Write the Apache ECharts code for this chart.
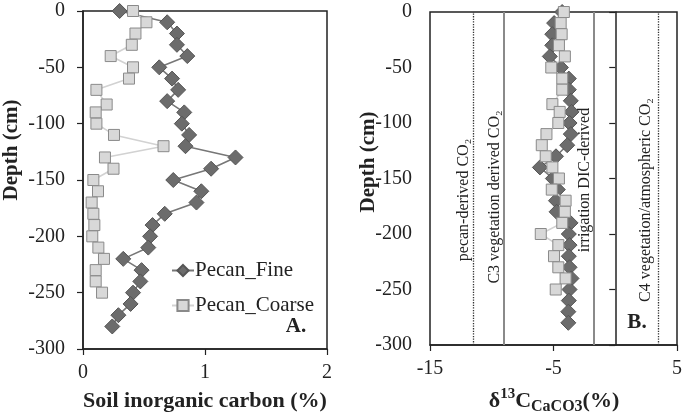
<!DOCTYPE html>
<html>
<head>
<meta charset="utf-8">
<script src="https://cdn.jsdelivr.net/npm/echarts@6/dist/echarts.min.js"></script>
<style>
html,body{margin:0;padding:0;background:#fff;}
#c{width:685px;height:414px;}
</style>
</head>
<body>
<div id="c"></div>
<script>
// ---- data ----
var depthFine = [0,-10,-20,-30,-40,-50,-60,-70,-80,-90,-100,-110,-120,-130,-140,-150,-160,-170,-180,-190,-200,-210,-220,-230,-240,-250,-260,-270,-280];
var fineSIC = [0.30,0.69,0.77,0.77,0.855,0.625,0.73,0.78,0.69,0.83,0.81,0.87,0.84,1.25,1.05,0.74,0.97,0.93,0.67,0.57,0.55,0.535,0.33,0.48,0.47,0.41,0.39,0.29,0.24];
var fineD13C = [-4.3,-4.95,-5.1,-5.1,-5.3,-4.4,-3.76,-3.76,-3.6,-3.54,-3.7,-3.6,-3.89,-4.8,-6.1,-5.05,-4.65,-4.8,-4.75,-3.62,-3.76,-3.7,-3.76,-3.7,-3.54,-3.7,-3.76,-3.8,-3.8];

var depthCoarse = [0,-10,-20,-30,-40,-50,-60,-70,-83,-90,-100,-110,-120,-130,-140,-150,-160,-170,-180,-190,-200,-210,-220,-230,-240,-250];
var coarseSIC = [0.41,0.52,0.43,0.40,0.227,0.41,0.377,0.11,0.194,0.104,0.11,0.254,0.66,0.18,0.25,0.085,0.123,0.071,0.085,0.093,0.076,0.126,0.172,0.104,0.104,0.156];
var coarseD13C = [-4.16,-4.42,-4.34,-4.56,-4.08,-5.18,-4.29,-4.29,-5.09,-4.5,-4.61,-5.57,-5.95,-5.63,-5.09,-4.56,-5.14,-4.02,-4.08,-4.29,-6.03,-4.61,-4.96,-4.61,-4.02,-4.82];

var refLineValues = [-11.5, -9, -1.75, 3.5];
var refLineLabels = ['pecan-derived CO\u2082','C3 vegetation derived CO\u2082','irrigation DIC-derived','C4 vegetation/atmospheric CO\u2082'];
var depthTicks = [0,-50,-100,-150,-200,-250,-300];
var sicTicks = [0,1,2];
var d13cTicks = [-15,-5,5];

var seriesNames = ['Pecan_Fine','Pecan_Coarse'];

function pairs(xs, ys){ return xs.map(function(v,i){ return [v, ys[i]]; }); }

var FONT = '"Liberation Serif","DejaVu Serif",serif';
var fineStyle = {
  type:'line', symbol:'diamond', symbolSize:15,
  lineStyle:{color:'#777777', width:1.6},
  itemStyle:{color:'#6c6c6c', borderColor:'#555555', borderWidth:1},
  z:3
};
var coarseStyle = {
  type:'line', symbol:'rect', symbolSize:11,
  lineStyle:{color:'#d2d2d2', width:1.6},
  itemStyle:{color:'#d8d8d8', borderColor:'#8a8a8a', borderWidth:1},
  z:4
};
function mk(base, extra){ var o={}; for(var k in base) o[k]=base[k]; for(var k2 in extra) o[k2]=extra[k2]; return o; }

var chart = echarts.init(document.getElementById('c'), null, {renderer:'canvas'});

var yAxisCommon = {
  type:'value', min:-300, max:0, interval:50,
  axisLine:{show:true, lineStyle:{color:'#222', width:1.5}},
  axisTick:{show:true, length:6, lineStyle:{color:'#222', width:1.2}},
  axisLabel:{color:'#222', fontFamily:FONT, fontSize:20, margin:18},
  splitLine:{show:false}
};

var option = {
  animation:false,
  backgroundColor:'#fff',
  grid:[
    {left:83, top:11, width:244, height:338, show:true, borderColor:'#222', borderWidth:1.5},
    {left:430, top:12, width:249, height:333, show:true, borderColor:'#222', borderWidth:1.5}
  ],
  xAxis:[
    {gridIndex:0, type:'value', min:0, max:2, interval:1,
     axisLine:{show:true, onZero:false, lineStyle:{color:'#222', width:1.5}},
     axisTick:{show:true, length:6, lineStyle:{color:'#222', width:1.2}},
     axisLabel:{color:'#222', fontFamily:FONT, fontSize:20, margin:14},
     splitLine:{show:false}},
    {gridIndex:1, type:'value', min:-15, max:5,
     axisLine:{show:true, onZero:false, lineStyle:{color:'#222', width:1.5}},
     axisTick:{show:true, length:6, customValues:d13cTicks, lineStyle:{color:'#222', width:1.2}},
     axisLabel:{color:'#222', fontFamily:FONT, fontSize:20, margin:14, customValues:d13cTicks},
     splitLine:{show:false}}
  ],
  yAxis:[
    mk(yAxisCommon, {gridIndex:0}),
    mk(yAxisCommon, {gridIndex:1})
  ],
  legend:{
    data:seriesNames, orient:'vertical', left:166, top:255, itemGap:14,
    itemWidth:22, itemHeight:14,
    textStyle:{fontFamily:FONT, fontSize:21, color:'#222', padding:[0,0,0,-4]},
    selectedMode:false
  },
  series:[
    mk(fineStyle, {name:seriesNames[0], xAxisIndex:0, yAxisIndex:0, data:pairs(fineSIC, depthFine)}),
    mk(coarseStyle, {name:seriesNames[1], xAxisIndex:0, yAxisIndex:0, data:pairs(coarseSIC, depthCoarse)}),
    mk(fineStyle, {name:seriesNames[0], xAxisIndex:1, yAxisIndex:1, data:pairs(fineD13C, depthFine),
      markLine:{silent:true, symbol:'none', label:{show:false}, z:1,
        data:refLineValues.map(function(v,i){
          var dotted = (i===0 || i===3);
          return {xAxis:v, lineStyle: dotted ? {type:'dotted', color:'#333', width:1.3} : {type:'solid', color:'#8a8a8a', width:2}};
        })}}),
    mk(coarseStyle, {name:seriesNames[1], xAxisIndex:1, yAxisIndex:1, data:pairs(coarseD13C, depthCoarse)})
  ],
  graphic:[
    {type:'text', x:12, y:150, rotation:Math.PI/2, style:{text:'Depth (cm)', font:'bold 21px '+FONT, fill:'#222', align:'center', verticalAlign:'middle'}},
    {type:'text', x:369, y:162, rotation:Math.PI/2, style:{text:'Depth (cm)', font:'bold 21px '+FONT, fill:'#222', align:'center', verticalAlign:'middle'}},
    {type:'text', x:205, y:401, style:{text:'Soil inorganic carbon (%)', font:'bold 22px '+FONT, fill:'#222', align:'center', verticalAlign:'middle'}},
    {type:'text', x:554, y:401, style:{
      text:'{b|\u03b4}{sup|13}{b|C}{sub|CaCO3}{b|(%)}', align:'center', verticalAlign:'middle',
      rich:{
        b:{font:'bold 22px '+FONT, fill:'#222', lineHeight:28, verticalAlign:'middle'},
        sup:{font:'bold 15px '+FONT, fill:'#222', lineHeight:15, verticalAlign:'top'},
        sub:{font:'bold 16px '+FONT, fill:'#222', lineHeight:16, verticalAlign:'bottom'}
      }}},
    {type:'text', x:296, y:327, style:{text:'A.', font:'bold 21px '+FONT, fill:'#222', align:'center', verticalAlign:'middle'}},
    {type:'text', x:637, y:323, style:{text:'B.', font:'bold 21px '+FONT, fill:'#222', align:'center', verticalAlign:'middle'}},
    {type:'text', x:464, y:200, rotation:Math.PI/2, style:{text:refLineLabels[0], font:'16px '+FONT, fill:'#222', align:'center', verticalAlign:'middle'}},
    {type:'text', x:495, y:197, rotation:Math.PI/2, style:{text:refLineLabels[1], font:'16px '+FONT, fill:'#222', align:'center', verticalAlign:'middle'}},
    {type:'text', x:585, y:180, rotation:Math.PI/2, style:{text:refLineLabels[2], font:'16px '+FONT, fill:'#222', align:'center', verticalAlign:'middle'}},
    {type:'text', x:646, y:200, rotation:Math.PI/2, style:{text:refLineLabels[3], font:'16px '+FONT, fill:'#222', align:'center', verticalAlign:'middle'}}
  ]
};
chart.setOption(option);
</script>
</body>
</html>
